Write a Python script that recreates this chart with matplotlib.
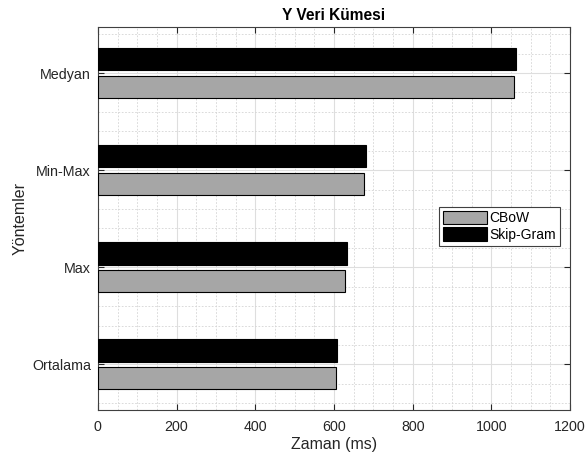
import numpy as np
import matplotlib.pyplot as plt
from matplotlib.ticker import MultipleLocator

plt.rcParams['font.family'] = ['Liberation Sans', 'DejaVu Sans']

methods = ['Ortalama', 'Max', 'Min-Max', 'Medyan']
cbow = [605, 628, 676, 1056]
skipgram = [608, 632, 680, 1063]

y = np.arange(1, len(methods) + 1)
h = 0.23
off = 0.143

fig = plt.figure(figsize=(5.86, 4.61), dpi=100)
ax = fig.add_axes([0.167, 0.1106, 0.806, 0.83])

ax.barh(y - off, cbow, height=h, color='#a6a6a6', edgecolor='black', linewidth=0.8, label='CBoW', zorder=3)
ax.barh(y + off, skipgram, height=h, color='black', edgecolor='black', linewidth=0.8, label='Skip-Gram', zorder=3)

ax.set_xlim(0, 1200)
ax.set_ylim(0.53, 4.47)
ax.set_yticks(y)
ax.set_yticklabels(methods)
ax.xaxis.set_major_locator(MultipleLocator(200))
ax.xaxis.set_minor_locator(MultipleLocator(50))
ax.yaxis.set_minor_locator(MultipleLocator(0.2))

ax.grid(which='major', color='#dedede', linewidth=0.8, zorder=0)
ax.grid(which='minor', color='#d4d4d4', linewidth=0.6, linestyle=(0, (2, 2)), zorder=0)
ax.set_axisbelow(True)

ax.tick_params(which='both', direction='in', top=True, right=True, colors='#262626', labelsize=10.3)
ax.tick_params(which='major', length=4, pad=5)
ax.tick_params(axis='x', which='major', pad=7)
ax.tick_params(which='minor', length=0)
for s in ax.spines.values():
    s.set_color('#404040')
    s.set_linewidth(0.8)

ax.set_title('Y Veri Kümesi', fontsize=11.2, fontweight='bold', pad=5)
ax.set_xlabel('Zaman (ms)', fontsize=11.5, color='#262626', labelpad=2)
ax.set_ylabel('Yöntemler', fontsize=11.5, color='#262626', labelpad=3)

leg = ax.legend(loc='center right', bbox_to_anchor=(0.979, 0.48), fontsize=10,
                fancybox=False, framealpha=1, edgecolor='#404040',
                handlelength=3.2, handleheight=1.1, handletextpad=0.15,
                borderpad=0.3, labelspacing=0.15, borderaxespad=0)
leg.get_frame().set_linewidth(0.8)

fig.savefig('out.png', dpi=100)
